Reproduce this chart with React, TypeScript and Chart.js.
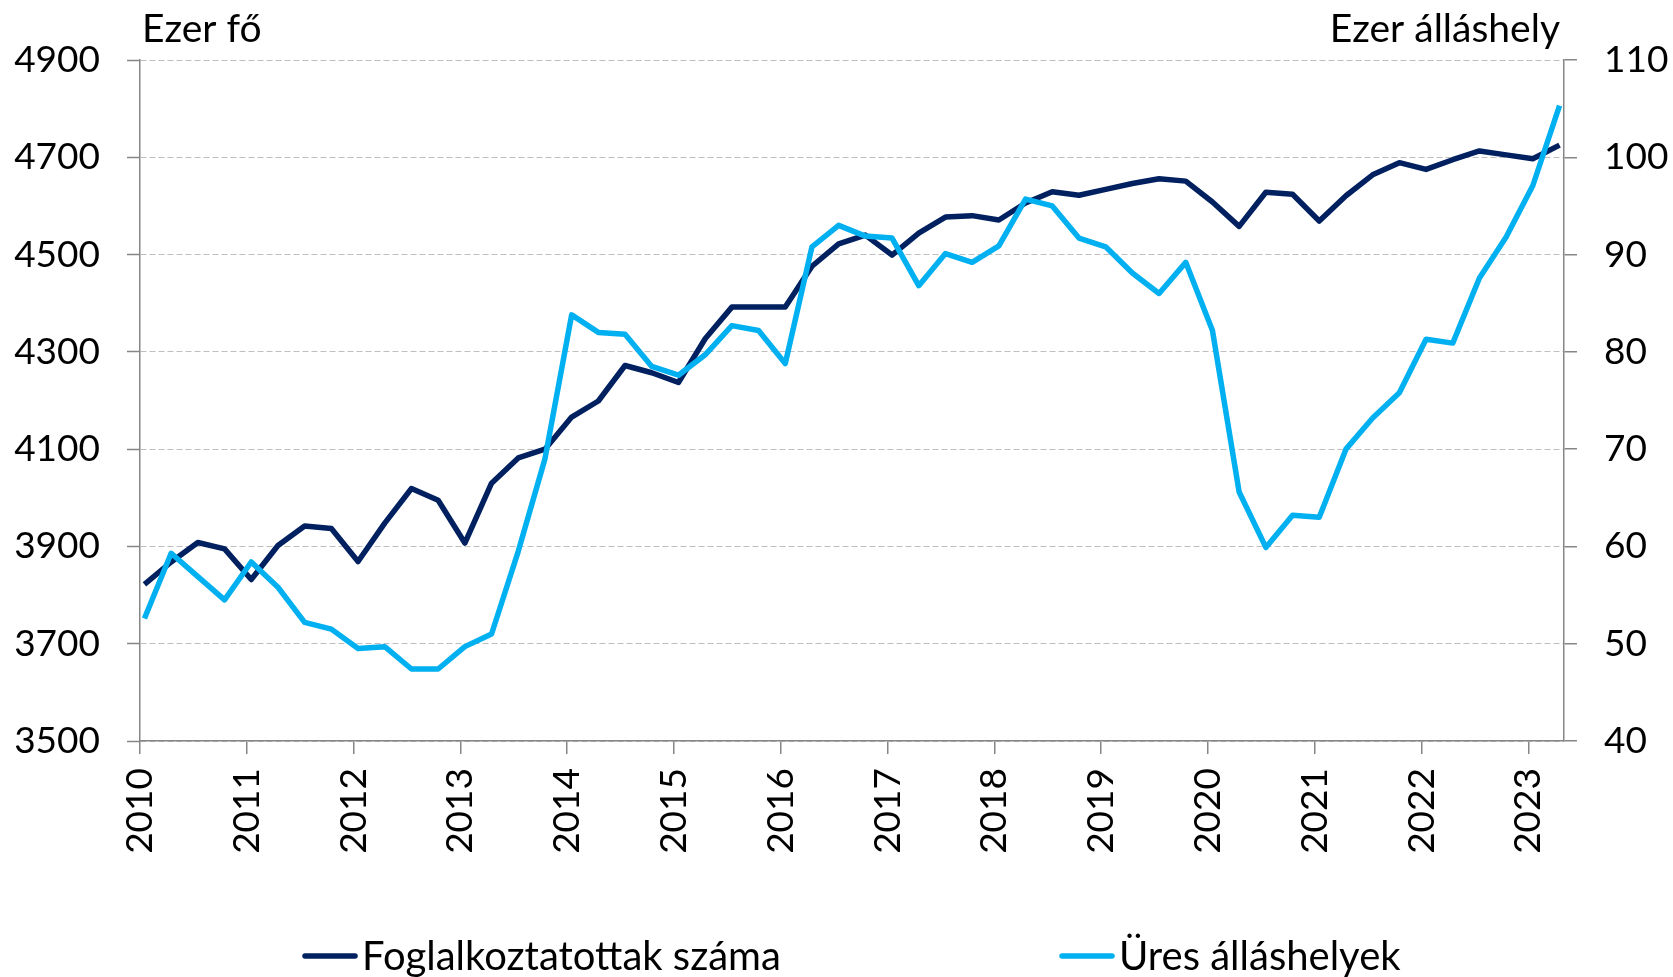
import React, { useEffect, useRef } from "react";
import { Chart, registerables } from "chart.js";

Chart.register(...registerables);

// ---------- data ----------
const quarters = [
  "2010Q1", "2010Q2", "2010Q3", "2010Q4",
  "2011Q1", "2011Q2", "2011Q3", "2011Q4",
  "2012Q1", "2012Q2", "2012Q3", "2012Q4",
  "2013Q1", "2013Q2", "2013Q3", "2013Q4",
  "2014Q1", "2014Q2", "2014Q3", "2014Q4",
  "2015Q1", "2015Q2", "2015Q3", "2015Q4",
  "2016Q1", "2016Q2", "2016Q3", "2016Q4",
  "2017Q1", "2017Q2", "2017Q3", "2017Q4",
  "2018Q1", "2018Q2", "2018Q3", "2018Q4",
  "2019Q1", "2019Q2", "2019Q3", "2019Q4",
  "2020Q1", "2020Q2", "2020Q3", "2020Q4",
  "2021Q1", "2021Q2", "2021Q3", "2021Q4",
  "2022Q1", "2022Q2", "2022Q3", "2022Q4",
  "2023Q1", "2023Q2",
];

// Foglalkoztatottak száma (ezer fő) – left axis
const employed = [
  3822, 3868, 3908, 3895,
  3832, 3902, 3942, 3937,
  3869, 3948, 4019, 3995,
  3907, 4030, 4082, 4100,
  4166, 4199, 4272, 4257,
  4237, 4327, 4392, 4392,
  4392, 4476, 4522, 4540,
  4499, 4544, 4577, 4580,
  4571, 4606, 4629, 4622,
  4634, 4646, 4656, 4651,
  4608, 4558, 4628, 4624,
  4569, 4621, 4664, 4689,
  4675, 4695, 4713, 4705,
  4697, 4725,
];

// Üres álláshelyek (ezer álláshely) – right axis
const vacancies = [
  52.6, 59.3, 56.9, 54.5,
  58.4, 55.8, 52.2, 51.5,
  49.5, 49.7, 47.4, 47.4,
  49.7, 51.0, 59.5, 69.0,
  83.8, 82.0, 81.8, 78.5,
  77.6, 79.7, 82.7, 82.2,
  78.8, 90.8, 93.0, 91.9,
  91.7, 86.8, 90.1, 89.2,
  90.9, 95.7, 95.0, 91.7,
  90.8, 88.1, 86.0, 89.2,
  82.2, 65.6, 59.9, 63.2,
  63.0, 70.0, 73.2, 75.8,
  81.3, 80.9, 87.6, 91.8,
  97.1, 105.3,
];

const yearTicks = [2010, 2011, 2012, 2013, 2014, 2015, 2016, 2017, 2018, 2019, 2020, 2021, 2022, 2023];

const seriesNames = ["Foglalkoztatottak száma", "Üres álláshelyek"];
const leftUnit = "Ezer fő";
const rightUnit = "Ezer álláshely";

// ---------- style ----------
const W = 1673;
const H = 977;
const FONT = "Lato, 'Open Sans', 'Noto Sans', sans-serif";
const DARK = "#002060";
const LIGHT = "#00B0F0";
const AXIS = "#868686";
const GRID = "#BFBFBF";

// date of each quarterly observation (mid first month of quarter) as decimal year
const toYear = (q: string) => {
  const y = parseInt(q.slice(0, 4), 10);
  const n = parseInt(q.slice(5), 10);
  return y + (n - 1) / 4 + 1 / 24;
};

const overlayPlugin = {
  id: "overlay",
  afterDraw(chart: any) {
    const { ctx, chartArea } = chart;
    ctx.save();
    ctx.fillStyle = "#000";
    ctx.font = `39px ${FONT}`;
    ctx.textBaseline = "alphabetic";
    ctx.textAlign = "left";
    ctx.fillText(leftUnit, chartArea.left + 2, 42);
    ctx.textAlign = "right";
    ctx.fillText(rightUnit, chartArea.right - 4, 42);

    // legend
    const items = [
      { name: seriesNames[0], color: DARK, x: 303 },
      { name: seriesNames[1], color: LIGHT, x: 1060 },
    ];
    const ly = 956;
    ctx.font = `40px ${FONT}`;
    ctx.textAlign = "left";
    ctx.textBaseline = "middle";
    items.forEach((it) => {
      ctx.strokeStyle = it.color;
      ctx.lineWidth = 5.5;
      ctx.lineCap = "round";
      ctx.beginPath();
      ctx.moveTo(it.x + 2, ly);
      ctx.lineTo(it.x + 52, ly);
      ctx.stroke();
      ctx.fillStyle = "#000";
      ctx.fillText(it.name, it.x + 59, ly + 1);
    });
    ctx.restore();
  },
};

export default function App() {
  const ref = useRef<HTMLCanvasElement | null>(null);

  useEffect(() => {
    if (!ref.current) return;
    const font = { family: FONT, size: 37 };
    const chart = new Chart(ref.current, {
      type: "line",
      data: {
        datasets: [
          {
            label: seriesNames[0],
            data: quarters.map((q, i) => ({ x: toYear(q), y: employed[i] })),
            borderColor: DARK,
            backgroundColor: DARK,
            borderWidth: 5.5,
            pointRadius: 0,
            tension: 0,
            borderJoinStyle: "round",
            yAxisID: "y",
            order: 2,
          },
          {
            label: seriesNames[1],
            data: quarters.map((q, i) => ({ x: toYear(q), y: vacancies[i] })),
            borderColor: LIGHT,
            backgroundColor: LIGHT,
            borderWidth: 5.5,
            pointRadius: 0,
            tension: 0,
            borderJoinStyle: "round",
            yAxisID: "y1",
            order: 1,
          },
        ],
      },
      options: {
        responsive: false,
        animation: false,
        devicePixelRatio: 1,
        layout: { padding: { top: 60, left: 0, right: 0, bottom: 0 } },
        plugins: {
          legend: { display: false },
          tooltip: { enabled: false },
          title: { display: false },
        },
        scales: {
          x: {
            type: "linear",
            min: 2010,
            max: 2023 + 4 / 12,
            afterBuildTicks: (scale: any) => {
              scale.ticks = yearTicks.map((v) => ({ value: v }));
            },
            ticks: {
              autoSkip: false,
              minRotation: 90,
              maxRotation: 90,
              padding: 14,
              color: "#000",
              font,
              callback: (v: any) => String(v),
            },
            grid: {
              drawOnChartArea: false,
              drawTicks: true,
              tickLength: 13,
              tickColor: AXIS,
              lineWidth: 1.5,
            },
            border: { color: AXIS, width: 1.5 },
            afterFit: (s: any) => {
              s.height = 236;
            },
          },
          y: {
            type: "linear",
            position: "left",
            min: 3500,
            max: 4900,
            ticks: { stepSize: 200, padding: 27, color: "#000", font, callback: (v: any) => String(v) },
            grid: {
              color: GRID,
              lineWidth: 1,
              tickColor: AXIS,
              tickLength: 13,
              tickBorderDash: [],
              tickWidth: 1.5,
            },
            border: { color: AXIS, width: 1.5, dash: [6, 3] },
            afterFit: (s: any) => {
              s.width = 140;
            },
          },
          y1: {
            type: "linear",
            position: "right",
            min: 40,
            max: 110,
            ticks: { stepSize: 10, padding: 27, color: "#000", font, callback: (v: any) => String(v) },
            grid: {
              drawOnChartArea: false,
              tickColor: AXIS,
              tickLength: 13,
              lineWidth: 1.5,
            },
            border: { color: AXIS, width: 1.5 },
            afterFit: (s: any) => {
              s.width = W - 1564;
            },
          },
        },
      },
      plugins: [overlayPlugin],
    } as any);
    return () => chart.destroy();
  }, []);

  return (
    <div style={{ position: "absolute", left: 0, top: 0, width: W, height: H, background: "#fff" }}>
      <canvas ref={ref} width={W} height={H} style={{ width: W, height: H, display: "block" }} />
    </div>
  );
}
